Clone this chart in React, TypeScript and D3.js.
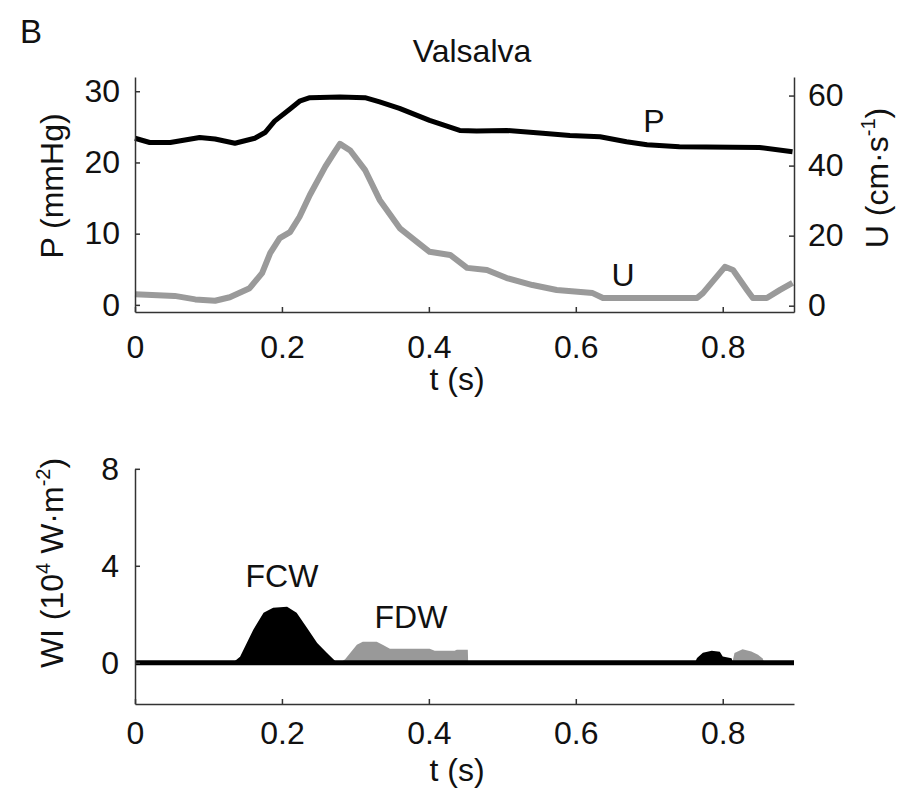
import React, { useEffect, useRef } from "react";
import * as d3 from "d3";

// ---- data ----
const tP = [0, 0.02, 0.048, 0.088, 0.109, 0.136, 0.163, 0.177, 0.19, 0.211, 0.224, 0.238, 0.279, 0.313, 0.333, 0.36, 0.401, 0.442, 0.465, 0.506, 0.555, 0.592, 0.633, 0.669, 0.697, 0.741, 0.85, 0.895];
const P = [23.4, 22.8, 22.8, 23.5, 23.3, 22.7, 23.4, 24.2, 25.8, 27.5, 28.6, 29.1, 29.2, 29.1, 28.5, 27.6, 25.9, 24.5, 24.4, 24.5, 24.1, 23.8, 23.6, 22.9, 22.5, 22.2, 22.1, 21.5];

const tU = [0, 0.054, 0.082, 0.109, 0.129, 0.156, 0.173, 0.184, 0.197, 0.211, 0.224, 0.238, 0.259, 0.272, 0.279, 0.293, 0.313, 0.333, 0.361, 0.388, 0.401, 0.429, 0.452, 0.479, 0.506, 0.541, 0.574, 0.623, 0.637, 0.765, 0.773, 0.803, 0.814, 0.833, 0.841, 0.86, 0.878, 0.895];
const U = [3.3, 2.8, 1.8, 1.4, 2.4, 5, 9.3, 15, 19.3, 21, 25.4, 31.6, 39.7, 44, 46.2, 44.3, 38.8, 30.2, 22, 17.5, 15.4, 14.5, 10.8, 10.2, 7.9, 5.9, 4.5, 3.6, 2.2, 2.2, 3.6, 11.1, 10.2, 4.5, 2.2, 2.2, 4.5, 6.5];

const tFCW = [0.133, 0.143, 0.161, 0.175, 0.188, 0.207, 0.22, 0.234, 0.248, 0.261, 0.275];
const FCW = [0, 0.25, 1.36, 2.06, 2.27, 2.31, 2.06, 1.44, 0.82, 0.41, 0];

const tFDW = [0.279, 0.286, 0.302, 0.31, 0.329, 0.337, 0.347, 0.401, 0.408, 0.435, 0.438, 0.453, 0.4535];
const FDW = [0, 0.15, 0.74, 0.87, 0.87, 0.74, 0.58, 0.58, 0.5, 0.5, 0.54, 0.54, 0];

const tFCW2 = [0.762, 0.765, 0.773, 0.785, 0.796, 0.8, 0.812, 0.814];
const FCW2 = [0, 0.2, 0.41, 0.5, 0.45, 0.26, 0.19, 0];

const tFDW2 = [0.813, 0.816, 0.827, 0.839, 0.848, 0.854, 0.857];
const FDW2 = [0, 0.4, 0.56, 0.47, 0.33, 0.19, 0];

const xTicks = [0, 0.2, 0.4, 0.6, 0.8];
const pTicks = [0, 10, 20, 30];
const uTicks = [0, 20, 40, 60];
const wTicks = [0, 4, 8];

const FONT = "'Liberation Sans', Arial, sans-serif";
const FS = 32;

export default function App() {
  const ref = useRef<SVGSVGElement | null>(null);

  useEffect(() => {
    const svg = d3.select(ref.current);
    svg.selectAll("*").remove();

    const x = d3.scaleLinear().domain([0, 0.897]).range([135, 794]);
    const yP = d3.scaleLinear().domain([-1, 32]).range([312, 77]);
    const yU = d3.scaleLinear().domain([-1.8, 65.3]).range([312, 77]);
    const yW = d3.scaleLinear().domain([-1.7, 8]).range([704, 468.8]);

    const styleAxis = (g: any) => {
      g.select(".domain").attr("stroke", "#333").attr("stroke-width", 1.5);
      g.selectAll(".tick line").attr("stroke", "#333").attr("stroke-width", 1.5);
      g.selectAll(".tick text")
        .attr("font-size", FS)
        .attr("font-family", FONT)
        .attr("fill", "#111");
      g.attr("font-size", null).attr("font-family", null);
    };
    const fmt = (d: any) => (d === 0 ? "0" : String(d));

    // ---------- top panel ----------
    const top = svg.append("g");
    const lineP = d3
      .line<number>()
      .x((_, i) => x(tP[i]))
      .y((d) => yP(d));
    const lineU = d3
      .line<number>()
      .x((_, i) => x(tU[i]))
      .y((d) => yU(d));

    top
      .append("path")
      .attr("d", lineU(U) as string)
      .attr("fill", "none")
      .attr("stroke", "#9a9a9a")
      .attr("stroke-width", 6)
      .attr("stroke-linejoin", "round");
    top
      .append("path")
      .attr("d", lineP(P) as string)
      .attr("fill", "none")
      .attr("stroke", "#000")
      .attr("stroke-width", 5)
      .attr("stroke-linejoin", "round");

    top
      .append("g")
      .attr("transform", "translate(135,0)")
      .call(d3.axisLeft(yP).tickValues(pTicks).tickSize(-5).tickSizeOuter(0).tickPadding(15).tickFormat(fmt as any))
      .call(styleAxis);
    top
      .append("g")
      .attr("transform", "translate(794,0)")
      .call(d3.axisRight(yU).tickValues(uTicks).tickSize(-5).tickSizeOuter(0).tickPadding(14).tickFormat(fmt as any))
      .call(styleAxis);
    top
      .append("g")
      .attr("transform", "translate(0,312)")
      .call(d3.axisBottom(x).tickValues(xTicks).tickSize(-5).tickSizeOuter(0).tickPadding(23).tickFormat(fmt as any))
      .call(styleAxis);

    // ---------- bottom panel ----------
    const bot = svg.append("g");
    const area = (ts: number[]) =>
      d3
        .area<number>()
        .x((_, i) => x(ts[i]))
        .y0(yW(0))
        .y1((d) => yW(d));

    bot.append("path").attr("d", area(tFCW)(FCW) as string).attr("fill", "#000");
    bot.append("path").attr("d", area(tFDW)(FDW) as string).attr("fill", "#999");
    bot.append("path").attr("d", area(tFCW2)(FCW2) as string).attr("fill", "#000");
    bot.append("path").attr("d", area(tFDW2)(FDW2) as string).attr("fill", "#999");

    bot
      .append("line")
      .attr("x1", x(0))
      .attr("x2", x(0.897))
      .attr("y1", yW(0))
      .attr("y2", yW(0))
      .attr("stroke", "#000")
      .attr("stroke-width", 5);

    bot
      .append("g")
      .attr("transform", "translate(135,0)")
      .call(d3.axisLeft(yW).tickValues(wTicks).tickSize(-5).tickSizeOuter(0).tickPadding(16).tickFormat(fmt as any))
      .call(styleAxis);
    bot
      .append("g")
      .attr("transform", "translate(0,704)")
      .call(d3.axisBottom(x).tickValues(xTicks).tickSize(-5).tickSizeOuter(0).tickPadding(17).tickFormat(fmt as any))
      .call(styleAxis);
  }, []);

  const txt = { fontFamily: FONT, fontSize: FS, fill: "#111" } as const;

  return (
    <svg
      width={899}
      height={792}
      style={{ position: "absolute", left: 0, top: 0, background: "#fff" }}
    >
      <rect x={0} y={0} width={899} height={792} fill="#fff" />
      <g ref={ref as any} />
      <text x={20} y={43} {...txt} fontSize={33}>B</text>
      <text x={472} y={62} textAnchor="middle" {...txt}>Valsalva</text>
      <text x={654} y={132} textAnchor="middle" {...txt}>P</text>
      <text x={623} y={286} textAnchor="middle" {...txt}>U</text>
      <text x={457} y={390} textAnchor="middle" {...txt}>t (s)</text>
      <text transform="translate(63,186) rotate(-90)" textAnchor="middle" {...txt}>P (mmHg)</text>
      <text transform="translate(888,178) rotate(-90)" textAnchor="middle" {...txt}>
        U (cm·s<tspan fontSize={20} dy={-13}>-1</tspan><tspan dy={13}>)</tspan>
      </text>
      <text x={282} y={587} textAnchor="middle" {...txt}>FCW</text>
      <text x={411} y={628} textAnchor="middle" {...txt}>FDW</text>
      <text x={457} y={781} textAnchor="middle" {...txt}>t (s)</text>
      <text transform="translate(63,563) rotate(-90)" textAnchor="middle" {...txt}>
        WI (10<tspan fontSize={20} dy={-13}>4</tspan><tspan dy={13}> W·m</tspan><tspan fontSize={20} dy={-13}>-2</tspan><tspan dy={13}>)</tspan>
      </text>
    </svg>
  );
}
